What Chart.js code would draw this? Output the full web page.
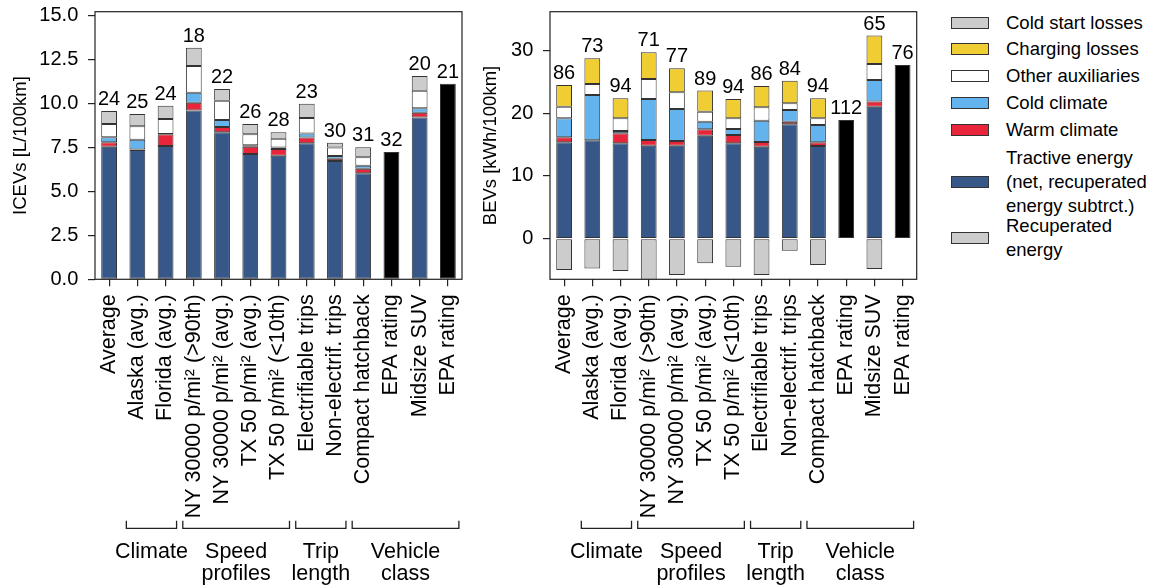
<!DOCTYPE html>
<html>
<head>
<meta charset="utf-8">
<script src="https://cdn.jsdelivr.net/npm/chart.js@4.4.0/dist/chart.umd.min.js"></script>
<style>
  body { margin: 0; background: #fff; width: 1153px; height: 588px; overflow: hidden; position: relative;
         font-family: "Liberation Sans", Arial, sans-serif; }
  #left { position: absolute; left: 0; top: 0; }
  #right { position: absolute; left: 470px; top: 0; }
  #legend { position: absolute; left: 951px; top: 0; width: 200px; height: 270px; font-size: 18.5px; color: #000; }
  .item { position: absolute; left: 0; white-space: nowrap; }
  .box { position: absolute; left: 0; width: 38px; height: 12px; border: 1px solid #333; box-sizing: border-box; }
  .txt { position: absolute; left: 55px; top: 0; line-height: 24px; }
</style>
</head>
<body>
<canvas id="left" width="470" height="588"></canvas>
<canvas id="right" width="460" height="588"></canvas>
<div id="legend"></div>
<script>
// categories shared by both panels
const categories = ['Average', 'Alaska (avg.)', 'Florida (avg.)', 'NY 30000 p/mi² (>90th)',
  'NY 30000 p/mi² (avg.)', 'TX 50 p/mi² (avg.)', 'TX 50 p/mi² (<10th)', 'Electrifiable trips',
  'Non-electrif. trips', 'Compact hatchback', 'EPA rating', 'Midsize SUV', 'EPA rating'];

// ICEV panel [L/100km]
const iceTractive  = [7.55, 7.37, 7.59, 9.61, 8.37, 7.14, 7.04, 7.75, 6.74, 6.04, null, 9.21, null];
const iceWarm      = [0.25, 0.02, 0.67, 0.45, 0.31, 0.41, 0.38, 0.32, 0.13, 0.26, null, 0.28, null];
const iceCold      = [0.29, 0.56, 0.02, 0.57, 0.39, 0.08, 0.08, 0.24, 0.15, 0.17, null, 0.25, null];
const iceAux       = [0.76, 0.76, 0.85, 1.52, 1.10, 0.63, 0.51, 0.88, 0.48, 0.48, null, 1.00, null];
const iceColdStart = [0.74, 0.71, 0.76, 1.04, 0.67, 0.59, 0.36, 0.81, 0.28, 0.57, null, 0.84, null];
const iceEpa       = [null, null, null, null, null, null, null, null, null, null, 7.25, null, 11.14];
const iceTotals    = [24, 25, 24, 18, 22, 26, 28, 23, 30, 31, 32, 20, 21];
const iceTicks     = [0, 2.5, 5, 7.5, 10, 12.5, 15];

// BEV panel [kWh/100km]
const bevTractive = [15.35, 15.67, 15.19, 14.82, 14.82, 16.41, 15.19, 14.66, 18.22, 14.76, null, 21.03, null];
const bevWarm     = [0.79, 0.02, 1.59, 0.90, 0.74, 1.01, 1.33, 0.74, 0.42, 0.59, null, 0.80, null];
const bevCold     = [3.03, 7.20, 0.37, 6.53, 5.10, 1.22, 0.95, 3.40, 1.86, 2.76, null, 3.45, null];
const bevAux      = [1.86, 1.75, 2.02, 3.19, 2.65, 1.59, 1.70, 2.12, 1.06, 1.06, null, 2.55, null];
const bevCharging = [3.45, 4.09, 3.19, 4.25, 3.83, 3.35, 3.08, 3.40, 3.61, 3.19, null, 4.51, null];
const bevRecup    = [-5.0, -4.73, -5.15, -7.5, -5.79, -3.93, -4.46, -5.79, -1.91, -4.20, null, -4.83, null];
const bevEpa      = [null, null, null, null, null, null, null, null, null, null, 18.91, null, 27.67];
const bevTotals   = [86, 73, 94, 71, 77, 89, 94, 86, 84, 94, 112, 65, 76];
const bevTicks    = [0, 10, 20, 30];

// category groups under the axis
const groupNames = [['Climate'], ['Speed', 'profiles'], ['Trip', 'length'], ['Vehicle', 'class']];
const groupFrom  = [1, 3, 7, 9];
const groupTo    = [2, 6, 8, 12];

const colors = {
  coldStart: '#cccccc', charging: '#f0cd32', aux: '#ffffff', cold: '#63b3ee',
  warm: '#e8253a', tractive: '#365788', recup: '#cccccc', epa: '#000000'
};

const legendNames = ['Cold start losses', 'Charging losses', 'Other auxiliaries', 'Cold climate',
  'Warm climate', 'Tractive energy\n(net, recuperated\nenergy subtrct.)', 'Recuperated\nenergy'];
const legendColors = [colors.coldStart, colors.charging, colors.aux, colors.cold, colors.warm, colors.tractive, colors.recup];
const legendCenters = [22.5, 49.2, 75.7, 102.5, 130, 181.5, 237.5];

Chart.defaults.font.family = '"Liberation Sans", Arial, sans-serif';
Chart.defaults.color = '#000';

const decor = {
  id: 'decor',
  afterDraw(chart, args, opts) {
    const ctx = chart.ctx, a = chart.chartArea;
    const x = chart.scales.x, y = chart.scales.y;
    ctx.save();
    ctx.strokeStyle = '#222';
    ctx.lineWidth = 1.2;
    ctx.strokeRect(a.left, a.top, a.right - a.left, a.bottom - a.top);

    // totals above bars
    ctx.fillStyle = '#000';
    ctx.font = '20px "Liberation Sans", Arial, sans-serif';
    ctx.textAlign = 'center';
    ctx.textBaseline = 'alphabetic';
    opts.totals.forEach(function (t, i) {
      let top = 0;
      chart.data.datasets.forEach(function (ds) {
        const v = ds.data[i];
        if (v > 0) top += v;
      });
      ctx.fillText(String(t), x.getPixelForValue(i), y.getPixelForValue(top) - 6);
    });

    // group brackets
    ctx.lineWidth = 1.3;
    ctx.font = '21.5px "Liberation Sans", Arial, sans-serif';
    for (let g = 0; g < groupNames.length; g++) {
      const x0 = x.getPixelForValue(groupFrom[g]) - 11;
      const x1 = x.getPixelForValue(groupTo[g]) + 11;
      ctx.beginPath();
      ctx.moveTo(x0, 520.7);
      ctx.lineTo(x0, 528.3);
      ctx.lineTo(x1, 528.3);
      ctx.lineTo(x1, 520.7);
      ctx.stroke();
      const cx = (x.getPixelForValue(groupFrom[g]) + x.getPixelForValue(groupTo[g])) / 2;
      groupNames[g].forEach(function (line, k) {
        ctx.fillText(line, cx, 558.3 + k * 21.7);
      });
    }
    ctx.restore();
  }
};

function ds(label, data, color) {
  return { label: label, data: data, backgroundColor: color, clip: 0 };
}

function buildChart(id, sets, totals, yMin, yMax, yTicks, yTitle, decimals, yWidth, padRight) {
  const tickGrid = { display: true, offset: false, drawOnChartArea: false, drawTicks: true,
                     tickLength: 7, color: '#222', lineWidth: 1.2 };
  return new Chart(document.getElementById(id), {
    type: 'bar',
    data: { labels: categories, datasets: sets },
    options: {
      responsive: false,
      animation: false,
      devicePixelRatio: 1,
      layout: { padding: { top: 11.7, right: padRight, left: 0, bottom: 0 } },
      datasets: {
        bar: { barPercentage: 0.56, categoryPercentage: 1, borderWidth: 1, borderColor: '#333', borderSkipped: false }
      },
      plugins: {
        legend: { display: false },
        tooltip: { enabled: false },
        decor: { totals: totals }
      },
      scales: {
        x: {
          stacked: true,
          offset: true,
          grid: tickGrid,
          border: { display: false },
          ticks: { autoSkip: false, minRotation: 90, maxRotation: 90, padding: 8, font: { size: 21.5 } },
          afterFit: function (s) { s.height = 308.7; s.paddingLeft = 0; s.paddingRight = 0; }
        },
        y: {
          stacked: true,
          min: yMin,
          max: yMax,
          grid: tickGrid,
          border: { display: false },
          ticks: { padding: 9.7, font: { size: 20, lineHeight: 1 },
                   callback: function (v) { return Number(v).toFixed(decimals); } },
          afterBuildTicks: function (s) { s.ticks = yTicks.map(function (v) { return { value: v }; }); },
          afterFit: function (s) { s.width = yWidth; s.paddingTop = 0; s.paddingBottom = 0; },
          title: { display: true, text: yTitle, font: { size: 18.5 }, padding: { top: 10, bottom: 0 } }
        }
      }
    },
    plugins: [decor]
  });
}

buildChart('left', [
  ds('Tractive energy', iceTractive, colors.tractive),
  ds('Warm climate', iceWarm, colors.warm),
  ds('Cold climate', iceCold, colors.cold),
  ds('Other auxiliaries', iceAux, colors.aux),
  ds('Cold start losses', iceColdStart, colors.coldStart),
  ds('EPA rating', iceEpa, colors.epa)
], iceTotals, 0, 15.24, iceTicks, 'ICEVs [L/100km]', 1, 95, 8);

buildChart('right', [
  ds('Recuperated energy', bevRecup, colors.recup),
  ds('Tractive energy', bevTractive, colors.tractive),
  ds('Warm climate', bevWarm, colors.warm),
  ds('Cold climate', bevCold, colors.cold),
  ds('Other auxiliaries', bevAux, colors.aux),
  ds('Charging losses', bevCharging, colors.charging),
  ds('EPA rating', bevEpa, colors.epa)
], bevTotals, -6.47, 36.15, bevTicks, 'BEVs [kWh/100km]', 0, 80, 13.3);

// legend
const legend = document.getElementById('legend');
legendNames.forEach(function (name, i) {
  const lines = name.split('\n');
  const item = document.createElement('div');
  item.className = 'item';
  const h = lines.length * 24;
  item.style.top = (legendCenters[i] - h / 2) + 'px';
  item.style.height = h + 'px';
  const box = document.createElement('div');
  box.className = 'box';
  box.style.background = legendColors[i];
  box.style.top = (h / 2 - 6) + 'px';
  const txt = document.createElement('div');
  txt.className = 'txt';
  lines.forEach(function (l, k) {
    if (k) txt.appendChild(document.createElement('br'));
    txt.appendChild(document.createTextNode(l));
  });
  item.appendChild(box);
  item.appendChild(txt);
  legend.appendChild(item);
});
</script>
</body>
</html>
